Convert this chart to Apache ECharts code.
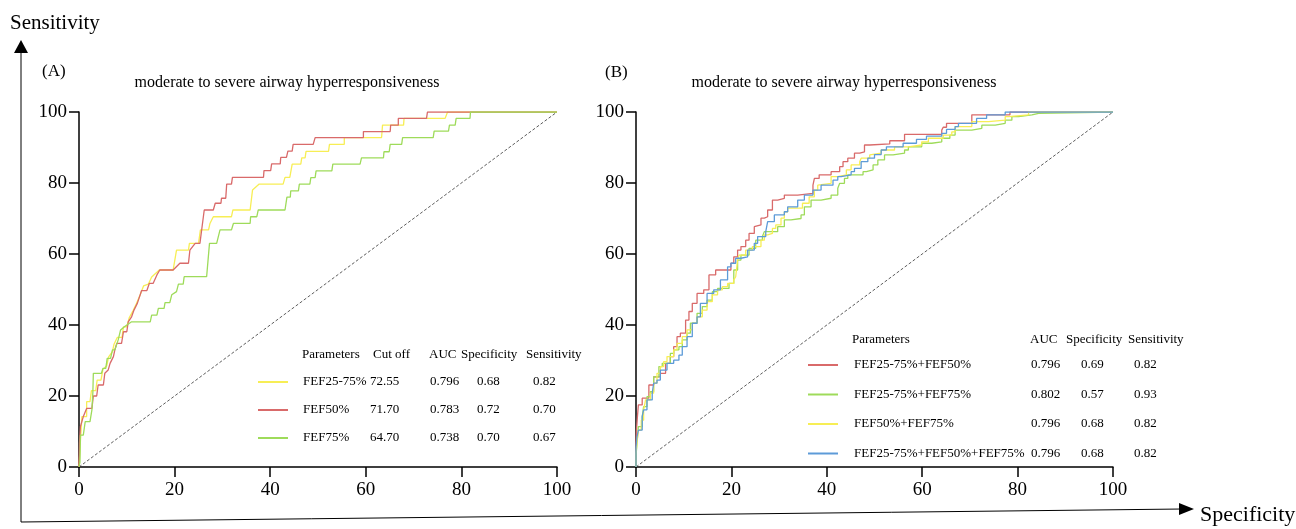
<!DOCTYPE html>
<html>
<head>
<meta charset="utf-8">
<script src="https://cdn.jsdelivr.net/npm/echarts@6/dist/echarts.min.js"></script>
<style>
  html, body { margin: 0; padding: 0; background: #fff; }
  #main { width: 1296px; height: 529px; }
</style>
</head>
<body>
<div id="main"></div>
<script>
// ---- data ----
var ticks = [0, 20, 40, 60, 80, 100];
var diagonal = [[0, 0], [100, 100]];

// (A) single parameters
var namesA = ['FEF25-75%', 'FEF50%', 'FEF75%'];
var cutoffA = ['72.55', '71.70', '64.70'];
var aucA = ['0.796', '0.783', '0.738'];
var specA = ['0.68', '0.72', '0.70'];
var sensA = ['0.82', '0.70', '0.67'];

var rocFEF2575 = [[0,0],[0.2,5],[0.6,14.2],[1.6,14.2],[1.6,18.4],[2.3,18.4],[2.6,21.5],[3.5,21.5],[3.8,24.5],[4.6,24.5],[5.0,27.5],[5.8,28.5],[6.2,31],[7.0,32.5],[7.3,34.5],[8.0,36.5],[9.0,36.5],[9.3,39.5],[10.0,39.5],[10.5,42],[11.3,44],[12.0,46],[12.8,48.5],[13.5,51],[14.5,51.5],[15.2,53.5],[16.0,54.5],[16.8,55.5],[19.7,55.5],[20.4,61.1],[22.9,61.1],[23.1,63.0],[25.0,63.0],[25.4,66.8],[27.1,66.8],[27.4,68.6],[28.1,70.5],[31.9,70.5],[32.2,72.4],[35.8,72.4],[36.3,78.0],[37.7,79.7],[42.7,79.7],[43.1,81.6],[44.1,81.6],[44.6,85.3],[46.4,85.3],[46.6,87.1],[47.3,87.1],[47.5,88.9],[52.2,88.9],[52.4,90.9],[55.5,90.9],[55.5,92.8],[63.3,92.8],[63.5,96.3],[67.9,96.3],[68.0,98.2],[76.6,98.2],[77.1,100],[100,100]];
var rocFEF50 = [[0,0],[0.1,6.7],[0.3,11.4],[0.9,14.2],[1.6,16.5],[2.7,16.5],[3.0,20.0],[3.7,20.0],[4.0,23.1],[5.1,23.1],[5.4,26.4],[6.1,27.3],[6.5,29.2],[7.2,31.1],[7.5,33.0],[7.9,34.8],[8.9,34.8],[9.3,38.1],[10.0,38.1],[10.3,40.9],[11.0,42.3],[11.5,44.2],[12.2,46.1],[13.1,49.7],[14.2,49.7],[14.7,51.7],[15.5,51.7],[16.3,54.1],[16.9,55.5],[19.7,55.5],[21.1,57.4],[22.9,57.4],[23.2,61.1],[24.3,63.0],[25.3,63.0],[26.2,72.4],[28.1,72.4],[28.5,74.3],[29.7,74.3],[29.8,75.7],[30.7,75.7],[30.9,79.7],[31.9,79.7],[32.1,81.6],[38.6,81.6],[38.7,83.5],[40.1,83.5],[40.3,85.4],[42.1,85.4],[42.2,87.2],[43.4,87.2],[43.7,89.0],[44.6,89.0],[44.8,90.9],[49.0,90.9],[49.4,92.8],[59.5,92.8],[59.5,94.5],[65.1,94.5],[65.2,96.3],[66.8,96.3],[66.8,98.2],[72.7,98.2],[72.9,100],[100,100]];
var rocFEF75 = [[0,0],[0.2,1.4],[0.3,9.0],[0.9,9.0],[1.3,12.8],[2.3,12.8],[2.7,16.1],[2.9,21],[3.0,26.4],[4.7,26.4],[5.0,27.8],[5.6,27.8],[5.9,30.6],[6.6,30.6],[7.0,33.0],[7.5,33.0],[8.2,35.8],[8.7,38.6],[9.5,39.5],[11.0,40.9],[14.9,40.9],[15.2,42.8],[16.3,42.8],[16.6,44.7],[17.8,44.7],[18.0,46.3],[19.0,46.3],[19.4,48.5],[20.4,49.4],[20.8,51.5],[21.8,51.5],[22.0,53.6],[26.7,53.6],[27.3,63.0],[28.8,63.0],[29.5,66.8],[31.9,66.8],[32.3,68.6],[35.8,68.6],[35.9,70.5],[37.2,70.5],[37.5,72.4],[43.1,72.4],[43.5,76.0],[44.2,76.0],[44.3,77.8],[45.9,77.8],[46.1,79.7],[48.3,79.7],[48.5,81.5],[49.4,81.5],[49.6,83.4],[52.9,83.4],[53.1,85.3],[58.8,85.3],[59.1,87.1],[63.7,87.1],[63.8,88.8],[64.9,88.8],[65.1,90.9],[67.5,90.9],[67.7,92.8],[74.1,92.8],[74.3,94.6],[77.3,94.6],[77.5,96.3],[78.7,96.3],[78.9,98.2],[81.8,98.2],[81.9,100],[100,100]];

// (B) combinations
var namesB = ['FEF25-75%+FEF50%', 'FEF25-75%+FEF75%', 'FEF50%+FEF75%', 'FEF25-75%+FEF50%+FEF75%'];
var aucB = ['0.796', '0.802', '0.796', '0.796'];
var specB = ['0.69', '0.57', '0.68', '0.68'];
var sensB = ['0.82', '0.93', '0.82', '0.82'];

var rocB1 = [[0,0],[0.1,6.7],[0.3,10.4],[0.5,14.2],[1.3,17.5],[2.7,19.4],[3.7,23.1],[5.1,25.4],[6.2,26.4],[7.2,29.2],[7.9,31.1],[8.6,33.9],[9.3,36.7],[10.4,37.7],[11.1,41.4],[11.8,43.8],[12.8,46.1],[14.2,48.9],[15.3,49.9],[16.7,54.1],[17.7,55.5],[19.9,55.5],[20.5,57.4],[21.3,59.2],[22.0,61.1],[23.0,62.1],[23.7,63.9],[24.8,65.8],[25.1,67.7],[26.2,68.2],[26.9,70.1],[27.6,70.5],[28.6,72.4],[29.7,75.2],[31.1,75.7],[33.9,76.6],[37.1,77.1],[37.4,79.4],[38.4,81.3],[40.9,82.3],[42.7,83.2],[43.4,84.6],[44.4,86.0],[45.8,87.0],[46.9,88.4],[47.9,88.8],[49.0,90.7],[53.2,91.0],[53.5,91.9],[56.3,91.9],[58.8,93.7],[64.1,93.7],[64.4,94.9],[65.1,95.7],[65.8,96.8],[70.4,96.8],[71.4,99.2],[78.4,99.2],[78.8,100],[100,100]];
var rocB2 = [[0,0],[0.2,2.9],[0.5,6.7],[1.3,11.4],[1.6,14.2],[2.3,17.0],[3.0,19.8],[3.7,21.2],[4.8,25.4],[5.5,28.3],[7.2,29.2],[7.9,32.0],[9.0,33.0],[9.7,33.9],[10.7,35.8],[11.4,37.7],[12.8,40.5],[13.9,43.3],[14.9,45.2],[16.0,47.0],[17.1,49.4],[17.7,50.3],[19.5,50.3],[20.5,51.7],[21.3,55.5],[22.0,58.3],[23.7,59.7],[25.1,61.6],[26.5,63.9],[26.9,64.9],[29.7,66.3],[31.1,67.7],[32.5,69.6],[34.6,70.0],[35.3,71.0],[36.7,73.3],[38.8,75.2],[40.9,75.7],[42.3,76.6],[42.7,78.5],[43.7,79.9],[44.4,81.3],[47.6,82.3],[48.3,83.2],[49.7,83.7],[50.7,85.1],[52.1,86.5],[53.9,87.9],[56.3,88.4],[57.1,89.3],[59.9,90.2],[62.0,91.2],[64.1,91.6],[65.8,92.6],[66.9,93.5],[70.4,94.9],[72.5,95.4],[75.3,96.3],[77.4,96.8],[78.8,97.7],[80.2,98.7],[83.0,99.2],[84.4,99.6],[84.8,100],[100,100]];
var rocB3 = [[0,0],[0.2,3.9],[0.5,6.7],[1.1,10.4],[1.6,13.2],[2.0,16.1],[3.0,18.9],[3.7,20.8],[4.4,23.6],[5.1,26.4],[5.8,28.3],[6.5,29.7],[7.9,31.1],[8.6,33.0],[9.7,34.8],[10.7,36.7],[11.8,38.6],[12.8,40.5],[13.9,42.3],[14.9,44.2],[16.0,46.6],[17.1,48.5],[18.1,49.9],[19.2,50.8],[20.5,51.7],[20.9,52.7],[21.3,53.6],[21.6,58.3],[23.0,59.7],[24.4,61.1],[26.2,62.1],[26.9,63.9],[27.6,65.4],[28.6,65.8],[29.3,67.2],[30.4,68.2],[31.1,70.1],[31.8,71.9],[34.9,72.9],[36.3,74.3],[37.4,76.1],[38.1,78.0],[38.4,79.4],[40.9,79.9],[42.3,81.8],[44.1,82.3],[45.1,83.7],[46.9,85.1],[47.2,86.0],[49.0,87.0],[49.3,87.9],[51.4,88.4],[54.2,89.3],[57.1,90.2],[59.9,90.7],[61.3,91.6],[64.4,92.6],[66.2,93.5],[66.9,94.4],[70.4,95.9],[73.9,97.3],[77.4,97.7],[78.1,98.7],[82.3,99.2],[84.8,100],[100,100]];
var rocB4 = [[0,0],[0.2,5.7],[0.5,8.5],[1.3,10.4],[1.6,14.2],[2.3,16.1],[3.4,18.9],[3.7,20.8],[4.4,23.6],[5.1,24.5],[6.5,27.3],[7.9,29.2],[9.0,30.1],[9.7,31.5],[10.7,33.9],[11.8,36.7],[12.8,40.5],[13.5,42.3],[14.9,46.1],[16.3,48.9],[17.7,49.9],[19.2,52.7],[19.9,56.4],[20.9,57.4],[22.0,58.8],[23.4,59.2],[24.8,61.1],[25.5,63.0],[27.2,64.9],[27.6,66.3],[29.0,69.1],[31.1,71.0],[31.8,71.9],[33.9,73.3],[35.3,75.2],[37.1,76.6],[38.8,78.0],[41.3,79.4],[42.3,80.8],[43.0,81.8],[45.1,82.3],[45.8,83.2],[47.2,84.1],[48.6,86.0],[50.0,87.0],[51.4,88.0],[52.5,89.3],[56.0,90.2],[58.8,91.2],[60.9,92.3],[64.1,93.2],[65.1,94.0],[66.9,95.1],[67.6,95.9],[71.4,96.8],[73.5,98.2],[77.4,99.2],[83.7,100],[100,100]];

var colRed = '#d96a6a', colYellow = '#f7ee55', colGreen = '#9edb5a', colBlue = '#5d9bd8';
var serif = 'Liberation Serif, Times New Roman, serif';

var myChart = echarts.init(document.getElementById('main'));

function axisX(gi) {
    return {
        gridIndex: gi, type: 'value', min: 0, max: 100, interval: 20,
        axisLine: { show: true, onZero: false, lineStyle: { color: '#000', width: 1.5 } },
        axisTick: { show: true, length: 10, lineStyle: { color: '#000', width: 1.5 } },
        axisLabel: { color: '#000', fontFamily: serif, fontSize: 19, margin: 14 },
        splitLine: { show: false }
    };
}
function axisY(gi) {
    return {
        gridIndex: gi, type: 'value', min: 0, max: 100, interval: 20,
        axisLine: { show: true, onZero: false, lineStyle: { color: '#000', width: 1.5 } },
        axisTick: { show: true, length: 10, lineStyle: { color: '#000', width: 1.5 } },
        axisLabel: { color: '#000', fontFamily: serif, fontSize: 19, margin: 12 },
        splitLine: { show: false }
    };
}
function roc(name, data, color, gi, step) {
    return {
        name: name, type: 'line', data: data, xAxisIndex: gi, yAxisIndex: gi,
        symbol: 'none', step: step, color: color,
        lineStyle: { color: color, width: 1.3 }
    };
}
function diag(gi) {
    return {
        type: 'line', data: diagonal, xAxisIndex: gi, yAxisIndex: gi, symbol: 'none',
        lineStyle: { color: '#333', width: 0.8, type: [3, 2] }, silent: true
    };
}

// 图例里的表格行
function rowA(name) {
    var i = namesA.indexOf(name);
    return '{s| }{n|' + name + '}{c|' + cutoffA[i] + '}{a|' + aucA[i] + '}{p|' + specA[i] + '}{e|' + sensA[i] + '}';
}
function rowB(name) {
    var i = namesB.indexOf(name);
    return '{s| }{n|' + name + '}{a|' + aucB[i] + '}{p|' + specB[i] + '}{e|' + sensB[i] + '}';
}
var txt = { fontFamily: serif, fontSize: 13, color: '#000', lineHeight: 14 };

function label(text, x, y, size, align) {
    return { type: 'text', x: x, y: y, silent: true,
        style: { text: text, font: size + 'px ' + serif, fill: '#000', align: align || 'left', verticalAlign: 'middle' } };
}

var option = {
    animation: false,
    backgroundColor: '#fff',
    grid: [
        { left: 79, top: 112, width: 478, height: 355 },
        { left: 636, top: 112, width: 477, height: 355 }
    ],
    xAxis: [axisX(0), axisX(1)],
    yAxis: [axisY(0), axisY(1)],
    legend: [
        {
            data: namesA, orient: 'vertical', left: 257, top: 375, padding: 0,
            itemWidth: 30, itemHeight: 14, itemGap: 14,
            itemStyle: { opacity: 0 },
            selectedMode: false, formatter: rowA,
            textStyle: Object.assign({}, txt, { rich: {
                s: { width: 10 }, n: Object.assign({ width: 67 }, txt), c: Object.assign({ width: 60 }, txt),
                a: Object.assign({ width: 47 }, txt), p: Object.assign({ width: 56 }, txt), e: txt } })
        },
        {
            data: namesB, orient: 'vertical', left: 807, top: 358, padding: 0,
            itemWidth: 30, itemHeight: 14, itemGap: 15.5,
            itemStyle: { opacity: 0 },
            selectedMode: false, formatter: rowB,
            textStyle: Object.assign({}, txt, { rich: {
                s: { width: 11 }, n: Object.assign({ width: 177 }, txt), a: Object.assign({ width: 50 }, txt),
                p: Object.assign({ width: 53 }, txt), e: txt } })
        }
    ],
    series: [
        diag(0),
        roc(namesA[0], rocFEF2575, colYellow, 0),
        roc(namesA[1], rocFEF50, colRed, 0),
        roc(namesA[2], rocFEF75, colGreen, 0),
        diag(1),
        roc(namesB[0], rocB1, colRed, 1, 'start'),
        roc(namesB[1], rocB2, colGreen, 1, 'start'),
        roc(namesB[2], rocB3, colYellow, 1, 'start'),
        roc(namesB[3], rocB4, colBlue, 1, 'start')
    ],
    graphic: [
        // 外框坐标轴与箭头
        { type: 'line', silent: true, shape: { x1: 21, y1: 50, x2: 21, y2: 522 }, style: { stroke: '#000', lineWidth: 1 } },
        { type: 'polygon', silent: true, shape: { points: [[21, 40], [14, 53], [28, 53]] }, style: { fill: '#000' } },
        { type: 'line', silent: true, shape: { x1: 21, y1: 522, x2: 1182, y2: 509 }, style: { stroke: '#000', lineWidth: 1 } },
        { type: 'polygon', silent: true, shape: { points: [[1194, 509], [1179, 503], [1179, 515]] }, style: { fill: '#000' } },
        label('Sensitivity', 10, 23, 21),
        label('Specificity', 1200, 515, 22),
        label('(A)', 42, 72, 17),
        label('(B)', 605, 73, 17),
        label('moderate to severe airway hyperresponsiveness', 287, 83, 16, 'center'),
        label('moderate to severe airway hyperresponsiveness', 844, 83, 16, 'center'),
        // 表头
        label('Parameters', 302, 355, 13), label('Cut off', 373, 355, 13), label('AUC', 429, 355, 13),
        label('Specificity', 461, 355, 13), label('Sensitivity', 526, 355, 13),
        label('Parameters', 852, 340, 13), label('AUC', 1030, 340, 13),
        label('Specificity', 1066, 340, 13), label('Sensitivity', 1128, 340, 13)
    ]
};

myChart.setOption(option);
</script>
</body>
</html>
